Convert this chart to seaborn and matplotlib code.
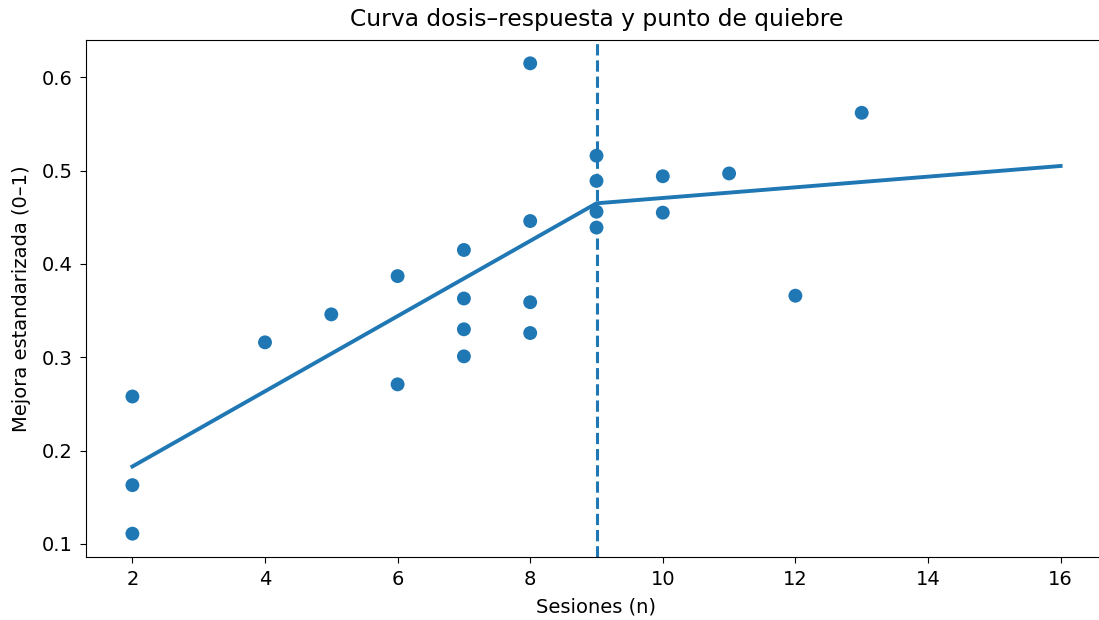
import matplotlib
matplotlib.use("Agg")
import matplotlib.pyplot as plt
import seaborn as sns
import numpy as np
import pandas as pd

sesiones = [2, 2, 2, 4, 5, 6, 6, 7, 7, 7, 7, 8, 8, 8, 8, 9, 9, 9, 9, 10, 10, 11, 12, 13]
mejora = [0.258, 0.163, 0.111, 0.316, 0.346, 0.387, 0.271, 0.415, 0.363, 0.330, 0.301,
          0.615, 0.446, 0.359, 0.326, 0.516, 0.489, 0.456, 0.439, 0.494, 0.455, 0.497,
          0.366, 0.562]
ajuste_x = [2, 9, 16]
ajuste_y = [0.183, 0.465, 0.505]
quiebre = 9

df = pd.DataFrame({"Sesiones (n)": sesiones, "Mejora estandarizada (0–1)": mejora})
fit = pd.DataFrame({"x": ajuste_x, "y": ajuste_y})

fig = plt.figure(figsize=(10.99, 6.2), dpi=100)
ax = fig.add_axes([86 / 1099, 1 - 557 / 620, (1107 - 86) / 1099, (557 - 40) / 620])
color = "#1f77b4"
sns.scatterplot(data=df, x="Sesiones (n)", y="Mejora estandarizada (0–1)", ax=ax,
                color=color, s=100, edgecolor="none", zorder=3)
sns.lineplot(data=fit, x="x", y="y", ax=ax, color=color, linewidth=2.8)
ax.axvline(quiebre, color=color, linestyle="--", linewidth=2.2)
ax.set_xlim(1.3, 16.7)
ax.set_ylim(0.086, 0.640)
ax.set_xticks([2, 4, 6, 8, 10, 12, 14, 16])
ax.set_yticks([0.1, 0.2, 0.3, 0.4, 0.5, 0.6])
ax.spines["right"].set_visible(False)
ax.tick_params(labelsize=14, length=4.5, pad=5)
ax.set_xlabel("Sesiones (n)", fontsize=14, labelpad=6)
ax.set_ylabel("Mejora estandarizada (0–1)", fontsize=14, labelpad=8)
ax.set_title("Curva dosis–respuesta y punto de quiebre", fontsize=16.8, pad=10)
fig.savefig("out.png", dpi=100)
